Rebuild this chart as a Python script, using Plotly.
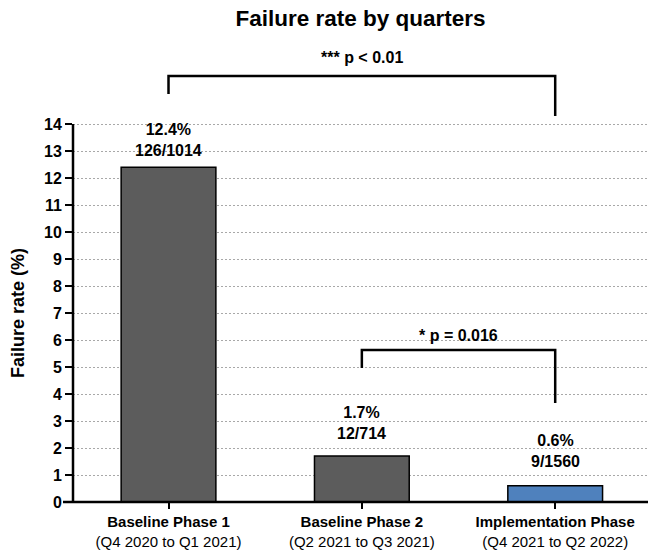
import plotly.graph_objects as go

# ---- data ----
categories = ["Baseline Phase 1", "Baseline Phase 2", "Implementation Phase"]
periods = ["(Q4 2020 to Q1 2021)", "(Q2 2021 to Q3 2021)", "(Q4 2021 to Q2 2022)"]
failure_rate = [12.4, 1.7, 0.6]
failures = [126, 12, 9]
totals = [1014, 714, 1560]
y_ticks = list(range(0, 15))
comparisons = [("Baseline Phase 1", "Implementation Phase", "*** p < 0.01"),
               ("Baseline Phase 2", "Implementation Phase", "* p = 0.016")]

# ---- style ----
FONT = "Liberation Sans, Arial, Helvetica, sans-serif"
Y_MAX = 16
bar_colors = ["#5c5c5c", "#5c5c5c", "#4f81bd"]
label_gap = [0.99, 1.21, 1.29]          # vertical gap of value labels above bars
bracket_levels = [(15.78, 15.11, 14.30, 16.48), (5.63, 4.96, 3.67, 6.15)]  # top, left leg, right leg, text

ticktext = [f"<b>{c}</b><br>{p}" for c, p in zip(categories, periods)]

fig = go.Figure()
fig.add_trace(go.Bar(
    x=categories, y=failure_rate, width=0.49,
    marker=dict(color=bar_colors, line=dict(color="black", width=1.5)),
    hoverinfo="skip",
))

idx = {c: i for i, c in enumerate(categories)}

# value labels
for i, (c, r, n, N) in enumerate(zip(categories, failure_rate, failures, totals)):
    fig.add_annotation(x=i, y=r + label_gap[i], xref="x", yref="y",
                       text=f"<b>{r}%<br>{n}/{N}</b>", showarrow=False,
                       yanchor="middle", font=dict(family=FONT, size=16, color="black"))

# significance brackets
for (a, b, txt), (top, l_bot, r_bot, ty) in zip(comparisons, bracket_levels):
    xa, xb = idx[a], idx[b]
    fig.add_shape(type="path", xref="x", yref="y",
                  path=f"M {xa} {l_bot} L {xa} {top} L {xb} {top} L {xb} {r_bot}",
                  line=dict(color="black", width=2.5))
    fig.add_annotation(x=(xa + xb) / 2, y=ty / Y_MAX, xref="x", yref="paper",
                       text=f"<b>{txt}</b>", showarrow=False, yanchor="middle",
                       font=dict(family=FONT, size=16, color="black"))

# axis lines
fig.add_shape(type="line", xref="paper", yref="paper", x0=-0.0174, x1=1, y0=0, y1=0,
              line=dict(color="black", width=2.5))
fig.add_shape(type="line", xref="paper", yref="y", x0=0, x1=0, y0=0, y1=max(y_ticks),
              line=dict(color="black", width=2.5))

# y-axis title
fig.add_annotation(x=-0.0957, y=7, xref="paper", yref="y", text="<b>Failure rate (%)</b>",
                   textangle=-90, showarrow=False, xanchor="center", yanchor="middle",
                   font=dict(family=FONT, size=18, color="black"))

fig.update_layout(
    width=649, height=552,
    margin=dict(l=73, r=1, t=70, b=50),
    plot_bgcolor="white", paper_bgcolor="white",
    showlegend=False,
    font=dict(family=FONT, color="black"),
    title=dict(text="<b>Failure rate by quarters</b>", x=0.5, xref="paper",
               y=1 - 18 / 552, yref="container", yanchor="middle",
               font=dict(family=FONT, size=22.5, color="black")),
    xaxis=dict(type="category", range=[-0.494, 2.48], tickvals=categories, ticktext=ticktext,
               ticks="outside", ticklen=6, tickwidth=2, tickcolor="black",
               showline=False, showgrid=False, zeroline=False,
               tickfont=dict(family=FONT, size=15, color="black")),
    yaxis=dict(range=[0, Y_MAX], tickvals=y_ticks, ticks="outside", ticklen=7, tickwidth=2,
               tickcolor="black", showline=False, zeroline=False,
               showgrid=True, gridcolor="#a8a8a8", gridwidth=1, griddash="2px,2px",
               tickfont=dict(family=FONT, size=16, color="black", weight="bold")),
)

fig.write_html("out.html", config={"displayModeBar": False},
               post_script="document.body.style.margin='0';")
